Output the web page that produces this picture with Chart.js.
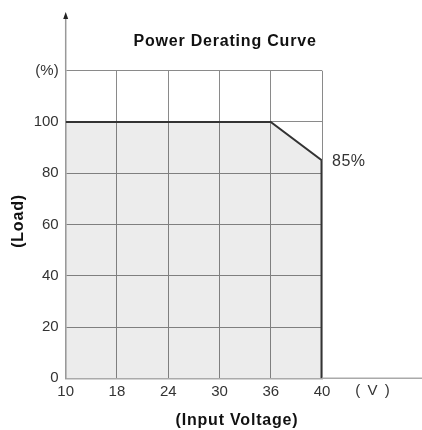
<!DOCTYPE html>
<html>
<head>
<meta charset="utf-8">
<script src="https://cdn.jsdelivr.net/npm/chart.js@4"></script>
<style>
  html, body { margin: 0; padding: 0; background: #fff; }
  #wrap { width: 422px; height: 430px; }
</style>
</head>
<body>
<div id="wrap"><canvas id="derating"></canvas></div>
<script>
// tick labels on the x axis (evenly spaced, not to scale)
const voltageTicks = [10, 18, 24, 30, 36, 40];
const loadTicks = [0, 20, 40, 60, 80, 100, 120];

// curve points
const curveVoltage = [10, 36, 40, 40];
const curveLoad = [100, 100, 85, 0];

const FONT = '"Liberation Sans", Arial, sans-serif';

// map each voltage onto the index of its tick
const curvePoints = curveVoltage.map((v, i) => ({ x: voltageTicks.indexOf(v), y: curveLoad[i] }));

// extra text, arrow and axis extension
const extras = {
    id: 'extras',
    afterDraw(chart) {
        const c = chart.ctx;
        const area = chart.chartArea;
        const xs = chart.scales.x;
        const ys = chart.scales.y;
        c.save();

        // y axis going up with arrow
        c.strokeStyle = '#999';
        c.lineWidth = 1.5;
        c.beginPath();
        c.moveTo(area.left, area.top);
        c.lineTo(area.left, 16);
        c.stroke();
        c.fillStyle = '#222';
        c.beginPath();
        c.moveTo(area.left, 12);
        c.lineTo(area.left - 2.5, 19);
        c.lineTo(area.left + 2.5, 19);
        c.closePath();
        c.fill();

        // x axis extending right
        c.strokeStyle = '#aaa';
        c.beginPath();
        c.moveTo(area.right, area.bottom);
        c.lineTo(422, area.bottom);
        c.stroke();

        c.fillStyle = '#333';
        c.font = '15px ' + FONT;
        c.textAlign = 'center';
        c.textBaseline = 'middle';
        c.letterSpacing = '1.5px';
        c.fillText('( V )', xs.getPixelForValue(6), 391);

        // 85% label
        c.letterSpacing = '0.5px';
        c.textAlign = 'left';
        c.font = '16px ' + FONT;
        c.fillText('85%', xs.getPixelForValue(5) + 10, ys.getPixelForValue(curveLoad[2]) + 1);

        // titles
        c.fillStyle = '#111';
        c.font = 'bold 16px ' + FONT;
        c.letterSpacing = '0.8px';
        c.textAlign = 'center';
        c.fillText('Power Derating Curve', 225, 42);
        c.fillText('(Input Voltage)', 237, 421);

        c.translate(19, 221);
        c.rotate(-Math.PI / 2);
        c.fillText('(Load)', 0, 0);
        c.restore();
    }
};

new Chart(document.getElementById('derating'), {
    type: 'scatter',
    data: {
        datasets: [{
            data: curvePoints,
            showLine: true,
            borderColor: '#333',
            borderWidth: 2,
            backgroundColor: 'rgba(0, 0, 0, 0.075)',
            fill: 'origin',
            pointRadius: 0,
            tension: 0,
            segment: {
                borderWidth: ctx => ctx.p0DataIndex === 2 ? 3 : 2
            }
        }]
    },
    options: {
        responsive: true,
        maintainAspectRatio: false,
        animation: false,
        layout: { padding: { top: 70.7, right: 100, left: 0, bottom: 0 } },
        plugins: {
            legend: { display: false },
            tooltip: { enabled: false }
        },
        scales: {
            x: {
                type: 'linear',
                min: 0,
                max: voltageTicks.length - 1,
                afterFit: s => { s.height = 51.7; },
                afterBuildTicks: s => { s.ticks = voltageTicks.map((v, i) => ({ value: i })); },
                ticks: {
                    callback: v => voltageTicks[v],
                    color: '#333',
                    padding: 5,
                    font: { family: FONT, size: 15 }
                },
                grid: { color: '#8a8a8a', lineWidth: 1, drawTicks: false },
                border: { color: '#aaa', width: 1.5 }
            },
            y: {
                min: 0,
                max: 120,
                afterFit: s => { s.width = 65.7; },
                afterBuildTicks: s => { s.ticks = loadTicks.map(v => ({ value: v })); },
                ticks: {
                    callback: v => v === 120 ? '(%)' : v,
                    color: '#333',
                    padding: 7,
                    font: { family: FONT, size: 15 }
                },
                grid: { color: '#8a8a8a', lineWidth: 1, drawTicks: false },
                border: { color: '#999', width: 1.5 }
            }
        }
    },
    plugins: [extras]
});
</script>
</body>
</html>
